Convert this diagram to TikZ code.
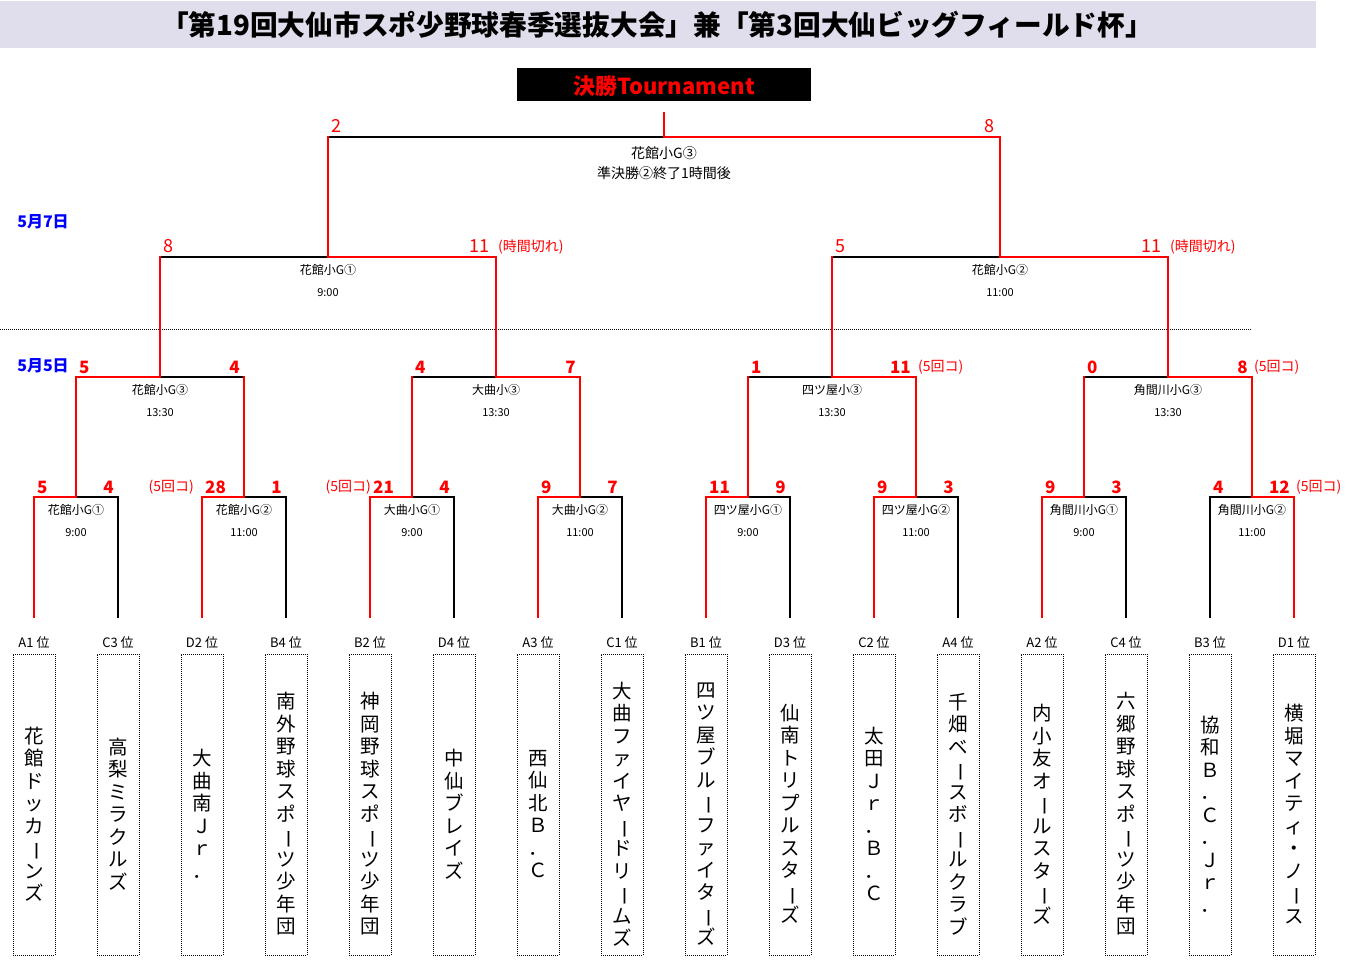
\documentclass[tikz,border=0pt]{standalone}
\usepackage{fontspec}
\usepackage{graphicx}
\setmainfont{Noto Sans CJK JP}
\definecolor{bandc}{RGB}{224,222,236}
\newcommand\cho{\rotatebox[origin=c]{-90}{ー}}
\newcommand\vname[1]{\vbox{\baselineskip=22.5pt\lineskiplimit=-100pt\lineskip=0pt\foreach \vc in {#1}{\hbox to 24pt{\hss\vc\hss}}}}
\tikzset{
  win/.style={draw=red,line width=2.6pt,line join=miter,line cap=rect},
  lose/.style={draw=black,line width=1.1pt,line cap=rect},
  sc/.style={text=red,font=\fontsize{17}{17}\selectfont\bfseries,inner sep=0pt},
  scf/.style={text=red,font=\fontsize{18}{18}\selectfont,inner sep=0pt},
  note/.style={text=red,font=\fontsize{14}{14}\selectfont,inner sep=0pt},
  mlabel/.style={font=\fontsize{12}{12}\selectfont,inner sep=0pt},
  mtime/.style={font=\fontsize{11}{11}\selectfont,inner sep=0pt},
  flabel/.style={font=\fontsize{14}{14}\selectfont,inner sep=0pt},
  datel/.style={text=blue,font=\fontsize{16}{16}\selectfont\bfseries,inner sep=0pt},
  posl/.style={font=\fontsize{13}{13}\selectfont,inner sep=0pt},
  tbox/.style={draw=black,line width=0.9pt,dash pattern=on 1pt off 1pt,minimum width=42pt,minimum height=301pt,inner sep=0pt},
  tname/.style={font=\fontsize{19.5}{19.5}\selectfont,inner sep=0pt},
}
\begin{document}
\begin{tikzpicture}[x=1pt,y=-1pt]
\useasboundingbox (0,0) rectangle (1350,975);
% title
\fill[bandc] (0,1) rectangle (1316,48);
\node[font=\fontsize{27.7}{27.7}\selectfont\bfseries,inner sep=0pt] (ttl) at (657,25) {「第19回大仙市スポ少野球春季選抜大会」兼「第3回大仙ビッグフィールド杯」};
\node[fill=black,minimum width=294pt,minimum height=33pt,inner sep=0pt] (tb) at (664,84.5) {};
\node[text=red,font=\fontsize{22}{22}\selectfont\bfseries,inner sep=0pt] (tbt) at (664,86) {決勝Tournament};
% dates and separator
\node[datel] (d7) at (43,222) {5月7日};
\node[datel] (d5) at (43,366) {5月5日};
\coordinate (sepA) at (0,329);
\coordinate (sepB) at (1252,329);
\draw[black,line width=0.9pt,dash pattern=on 1pt off 1pt] (sepA) -- (sepB);
% coordinates
\foreach \i in {1,...,16}{\coordinate (t\i) at ({34+84*(\i-1)},617);}
\foreach \k in {1,...,8}{
  \coordinate (r\k) at ({76+168*(\k-1)},497);
  \coordinate (rl\k) at ({34+168*(\k-1)},497);
  \coordinate (rr\k) at ({118+168*(\k-1)},497);}
\foreach \k in {1,...,4}{
  \coordinate (q\k) at ({160+336*(\k-1)},377);
  \coordinate (ql\k) at ({76+336*(\k-1)},377);
  \coordinate (qr\k) at ({244+336*(\k-1)},377);}
\foreach \k in {1,2}{
  \coordinate (s\k) at ({328+672*(\k-1)},257);
  \coordinate (sl\k) at ({160+672*(\k-1)},257);
  \coordinate (sr\k) at ({496+672*(\k-1)},257);}
\coordinate (f) at (664,137);
\coordinate (fl) at (328,137);
\coordinate (fr) at (1000,137);
\coordinate (ftop) at (664,113);
% losing lines
\draw[lose] (t2) -- (rr1) -- (r1);
\draw[lose] (t4) -- (rr2) -- (r2);
\draw[lose] (t6) -- (rr3) -- (r3);
\draw[lose] (t8) -- (rr4) -- (r4);
\draw[lose] (t10) -- (rr5) -- (r5);
\draw[lose] (t12) -- (rr6) -- (r6);
\draw[lose] (t14) -- (rr7) -- (r7);
\draw[lose] (t15) -- (rl8) -- (r8);
\draw[lose] (q1) -- (qr1);
\draw[lose] (ql2) -- (q2);
\draw[lose] (ql3) -- (q3);
\draw[lose] (ql4) -- (q4);
\draw[lose] (sl1) -- (s1);
\draw[lose] (sl2) -- (s2);
\draw[lose] (fl) -- (f);
% winning lines
\draw[win] (t1) -- (rl1) -- (r1) -- (ql1) -- (q1) -- (sl1);
\draw[win] (t3) -- (rl2) -- (r2) -- (qr1);
\draw[win] (t5) -- (rl3) -- (r3) -- (ql2);
\draw[win] (t7) -- (rl4) -- (r4) -- (qr2) -- (q2) -- (sr1) -- (s1) -- (fl);
\draw[win] (t9) -- (rl5) -- (r5) -- (ql3);
\draw[win] (t11) -- (rl6) -- (r6) -- (qr3) -- (q3) -- (sl2);
\draw[win] (t13) -- (rl7) -- (r7) -- (ql4);
\draw[win] (t16) -- (rr8) -- (r8) -- (qr4) -- (q4) -- (sr2) -- (s2) -- (fr) -- (f) -- (ftop);
% final labels
\node[scf,anchor=base west] (fsl) at (331,132.5) {2};
\node[scf,anchor=base east] (fsr) at (995,132.5) {8};
\node[flabel] (fn) at (664,153) {花館小G③};
\node[flabel] (ft) at (664,173) {準決勝②終了1時間後};
% semifinal
\node[scf,anchor=base west] (s1a) at (163,252.5) {8};
\node[scf,anchor=base east] (s1b) at (490,252.5) {11};
\node[note,anchor=base west] (s1c) at (498,251) {(時間切れ)};
\node[mlabel] (s1n) at (328,270) {花館小G①};
\node[mtime] (s1t) at (328,293) {9:00};
\node[scf,anchor=base west] (s2a) at (835,252.5) {5};
\node[scf,anchor=base east] (s2b) at (1162,252.5) {11};
\node[note,anchor=base west] (s2c) at (1170,251) {(時間切れ)};
\node[mlabel] (s2n) at (1000,270) {花館小G②};
\node[mtime] (s2t) at (1000,293) {11:00};
% quarterfinals
\node[sc,anchor=base west] (q1a) at (79,373) {5};
\node[sc,anchor=base east] (q1b) at (240,373) {4};
\node[mlabel] (q1n) at (160,390) {花館小G③};
\node[mtime] (q1t) at (160,413) {13:30};
\node[sc,anchor=base west] (q2a) at (415,373) {4};
\node[sc,anchor=base east] (q2b) at (576,373) {7};
\node[mlabel] (q2n) at (496,390) {大曲小③};
\node[mtime] (q2t) at (496,413) {13:30};
\node[sc,anchor=base west] (q3a) at (751,373) {1};
\node[sc,anchor=base east] (q3b) at (911,373) {11};
\node[note,anchor=base west] (q3c) at (918,371) {(5回コ)};
\node[mlabel] (q3n) at (832,390) {四ツ屋小③};
\node[mtime] (q3t) at (832,413) {13:30};
\node[sc,anchor=base west] (q4a) at (1087,373) {0};
\node[sc,anchor=base east] (q4b) at (1248,373) {8};
\node[note,anchor=base west] (q4c) at (1254,371) {(5回コ)};
\node[mlabel] (q4n) at (1168,390) {角間川小G③};
\node[mtime] (q4t) at (1168,413) {13:30};
% first round
\node[sc,anchor=base west] (r1a) at (37,493) {5};
\node[sc,anchor=base east] (r1b) at (114,493) {4};
\node[note,anchor=base east] (r2c) at (194,491) {(5回コ)};
\node[sc,anchor=base west] (r2a) at (205,493) {28};
\node[sc,anchor=base east] (r2b) at (282,493) {1};
\node[note,anchor=base east] (r3c) at (371,491) {(5回コ)};
\node[sc,anchor=base west] (r3a) at (373,493) {21};
\node[sc,anchor=base east] (r3b) at (450,493) {4};
\node[sc,anchor=base west] (r4a) at (541,493) {9};
\node[sc,anchor=base east] (r4b) at (618,493) {7};
\node[sc,anchor=base west] (r5a) at (709,493) {11};
\node[sc,anchor=base east] (r5b) at (786,493) {9};
\node[sc,anchor=base west] (r6a) at (877,493) {9};
\node[sc,anchor=base east] (r6b) at (954,493) {3};
\node[sc,anchor=base west] (r7a) at (1045,493) {9};
\node[sc,anchor=base east] (r7b) at (1122,493) {3};
\node[sc,anchor=base west] (r8a) at (1213,493) {4};
\node[sc,anchor=base east] (r8b) at (1290,493) {12};
\node[note,anchor=base west] (r8c) at (1296,491) {(5回コ)};
\foreach \k/\nm/\tm in {1/花館小G①/9:00,2/花館小G②/11:00,3/大曲小G①/9:00,4/大曲小G②/11:00,5/四ツ屋小G①/9:00,6/四ツ屋小G②/11:00,7/角間川小G①/9:00,8/角間川小G②/11:00}{
  \node[mlabel] (rn\k) at ({76+168*(\k-1)},510) {\nm};
  \node[mtime] (rt\k) at ({76+168*(\k-1)},533) {\tm};}
% teams
\foreach \i/\p in {1/A1 位,2/C3 位,3/D2 位,4/B4 位,5/B2 位,6/D4 位,7/A3 位,8/C1 位,9/B1 位,10/D3 位,11/C2 位,12/A4 位,13/A2 位,14/C4 位,15/B3 位,16/D1 位}{
  \node[posl] (p\i) at ({34+84*(\i-1)},643) {\p};
  \node[tbox] (b\i) at ({34+84*(\i-1)},804.5) {};}
\node[tname] (n1) at (34,814) {\vname{花,館,ド,ッ,カ,\cho,ン,ズ}};
\node[tname] (n2) at (118,814) {\vname{高,梨,ミ,ラ,ク,ル,ズ}};
\node[tname] (n3) at (202,814) {\vname{大,曲,南,Ｊ,ｒ,．}};
\node[tname] (n4) at (286,814) {\vname{南,外,野,球,ス,ポ,\cho,ツ,少,年,団}};
\node[tname] (n5) at (370,814) {\vname{神,岡,野,球,ス,ポ,\cho,ツ,少,年,団}};
\node[tname] (n6) at (454,814) {\vname{中,仙,ブ,レ,イ,ズ}};
\node[tname] (n7) at (538,814) {\vname{西,仙,北,Ｂ,．,Ｃ}};
\node[tname] (n8) at (622,814) {\vname{大,曲,フ,ァ,イ,ヤ,\cho,ド,リ,\cho,ム,ズ}};
\node[tname] (n9) at (706,814) {\vname{四,ツ,屋,ブ,ル,\cho,フ,ァ,イ,タ,\cho,ズ}};
\node[tname] (n10) at (790,814) {\vname{仙,南,ト,リ,プ,ル,ス,タ,\cho,ズ}};
\node[tname] (n11) at (874,814) {\vname{太,田,Ｊ,ｒ,．,Ｂ,．,Ｃ}};
\node[tname] (n12) at (958,814) {\vname{千,畑,ベ,\cho,ス,ボ,\cho,ル,ク,ラ,ブ}};
\node[tname] (n13) at (1042,814) {\vname{内,小,友,オ,\cho,ル,ス,タ,\cho,ズ}};
\node[tname] (n14) at (1126,814) {\vname{六,郷,野,球,ス,ポ,\cho,ツ,少,年,団}};
\node[tname] (n15) at (1210,814) {\vname{協,和,Ｂ,．,Ｃ,．,Ｊ,ｒ,．}};
\node[tname] (n16) at (1294,814) {\vname{横,堀,マ,イ,テ,ィ,・,ノ,\cho,ス}};
\end{tikzpicture}
\end{document}
